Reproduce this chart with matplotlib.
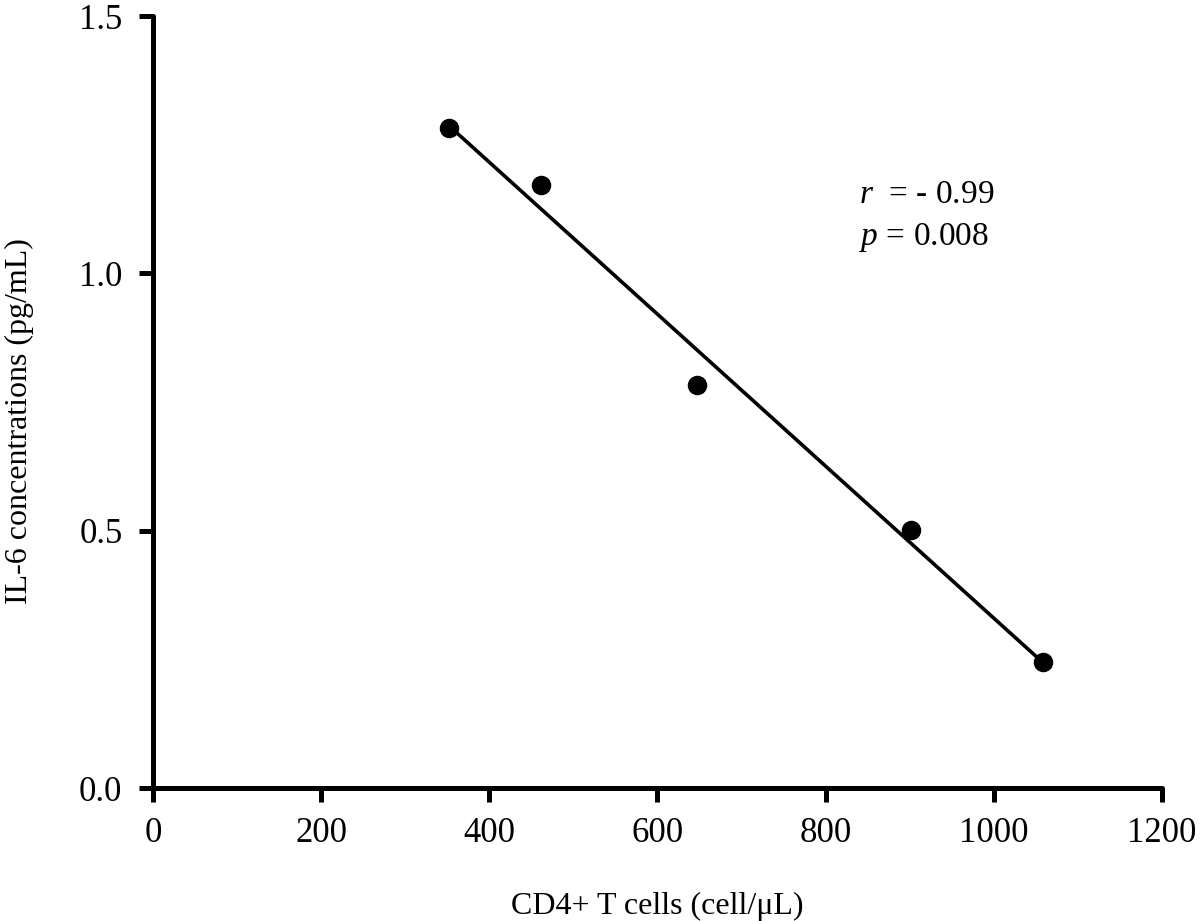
import numpy as np
import matplotlib
matplotlib.use("Agg")
import matplotlib.pyplot as plt


# Values
cd4_cells = [352, 461, 647, 901, 1059]
il6_levels = [1.282, 1.172, 0.783, 0.501, 0.245]

x_ticks = [0, 200, 400, 600, 800, 1000, 1200]
y_ticks = [0.0, 0.5, 1.0, 1.5]
y_tick_labels = ["0.0", "0.5", "1.0", "1.5"]

plt.rcParams["font.family"] = ["Liberation Serif", "DejaVu Serif"]
plt.rcParams["mathtext.fontset"] = "custom"
plt.rcParams["mathtext.it"] = "Liberation Serif:italic"
plt.rcParams["mathtext.rm"] = "Liberation Serif"


fig = plt.figure(figsize=(12, 9.21), dpi=100)
ax = fig.add_axes([0.1275, 0.1444, 0.8408, 0.8382])

# Linear fit through the points
slope, intercept = np.polyfit(cd4_cells, il6_levels, 1)
fit_x = np.array([min(cd4_cells), max(cd4_cells)])
ax.plot(fit_x, slope * fit_x + intercept, color="black", linewidth=2.6,
        solid_capstyle="butt", zorder=2)

ax.scatter(cd4_cells, il6_levels, s=170, color="black", zorder=3)

ax.set_xlim(0, 1200)
ax.set_ylim(0, 1.5)
ax.set_xticks(x_ticks)
ax.set_yticks(y_ticks)
ax.set_yticklabels(y_tick_labels)

for side in ["top", "right"]:
    ax.spines[side].set_visible(False)
for side in ["left", "bottom"]:
    ax.spines[side].set_linewidth(3.6)
    ax.spines[side].set_capstyle("round")

ax.tick_params(direction="out", length=10, width=3.6, labelsize=25)
ax.tick_params(axis="x", pad=11)
ax.tick_params(axis="y", pad=12)

ax.set_xlabel("CD4+ T cells (cell/\u03bcL)", fontsize=23, labelpad=30)
ax.set_ylabel("IL-6 concentrations (pg/mL)", fontsize=23, labelpad=32)
ax.yaxis.set_label_coords(-0.118, 0.475)

ax.text(840, 1.152, r"$r$  = - 0.99", fontsize=24, va="center")
ax.text(840, 1.07, r"$p$ = 0.008", fontsize=24, va="center")

fig.savefig("out.png", dpi=100, facecolor="white")
